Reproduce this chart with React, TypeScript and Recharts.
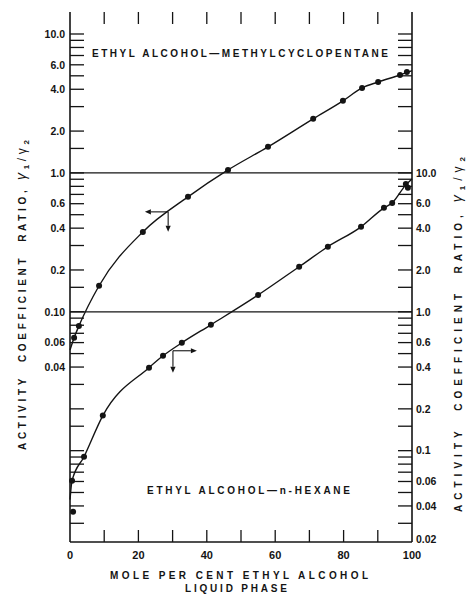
import { ComposedChart, Line, Scatter, XAxis, YAxis, ReferenceLine } from "recharts"

// Ethyl alcohol - methylcyclopentane (left axis)
const mcpX = [1.2, 2.6, 8.5, 21.3, 34.5, 46.2, 57.9, 71.1, 79.8, 85.4, 90.1, 96.5, 98.5]
const mcpRatio = [0.065, 0.079, 0.154, 0.376, 0.672, 1.05, 1.54, 2.45, 3.3, 4.09, 4.51, 5.07, 5.33]
// the smooth curve as drawn, read at these points
const mcpCurveX = [0, 1.2, 2.6, 8.5, 21.3, 34.5, 46.2, 57.9, 71.1, 79.8, 85.4, 90.1, 96.5, 100]
const mcpCurveRatio = [0.053, 0.065, 0.079, 0.154, 0.376, 0.672, 1.05, 1.54, 2.45, 3.3, 4.09, 4.51, 5.07, 5.45]

// Ethyl alcohol - n-hexane (right axis)
const hexX = [0.9, 0.6, 4.1, 9.6, 23.1, 27.2, 32.7, 41.2, 55.0, 67.0, 75.4, 85.1, 91.8, 94.2, 98.2, 98.8]
const hexRatio = [0.0364, 0.0608, 0.0905, 0.179, 0.396, 0.482, 0.598, 0.806, 1.32, 2.11, 2.94, 4.09, 5.6, 6.08, 8.33, 7.8]
const hexCurveX = [0, 0.6, 4.1, 9.6, 23.1, 27.2, 32.7, 41.2, 55.0, 67.0, 75.4, 85.1, 91.8, 94.2, 98.2, 100]
const hexCurveRatio = [0.0444, 0.0608, 0.0905, 0.179, 0.396, 0.482, 0.598, 0.806, 1.32, 2.11, 2.94, 4.09, 5.6, 6.08, 8.2, 9.05]

// axes
const xDomain = [0, 100]
const leftDomain = [0.0022, 14.4]
const rightDomain = [0.022, 144]
const xLabelValues = [0, 20, 40, 60, 80, 100]
const xMarks = [10, 20, 30, 40, 50, 60, 70, 80, 90]
const leftMarks = [10, 9, 8, 7, 6, 5, 4, 3, 2, 1.5, 1, 0.9, 0.8, 0.7, 0.6, 0.5, 0.4, 0.3, 0.2, 0.15, 0.1, 0.09, 0.08, 0.07, 0.06, 0.05, 0.04, 0.03, 0.02, 0.015, 0.01, 0.009, 0.008, 0.007, 0.006, 0.005, 0.004, 0.003]
const leftLabelValues = [10, 6, 4, 2, 1, 0.6, 0.4, 0.2, 0.1, 0.06, 0.04]
const leftLabels = ["10.0", "6.0", "4.0", "2.0", "1.0", "0.6", "0.4", "0.2", "0.10", "0.06", "0.04"]
const rightMarks = [100, 90, 80, 70, 60, 50, 40, 30, 20, 15, 10, 9, 8, 7, 6, 5, 4, 3, 2, 1.5, 1, 0.9, 0.8, 0.7, 0.6, 0.5, 0.4, 0.3, 0.2, 0.15, 0.1, 0.09, 0.08, 0.07, 0.06, 0.05, 0.04, 0.03]
const rightLabelValues = [10, 6, 4, 2, 1, 0.6, 0.4, 0.2, 0.1, 0.06, 0.04, 0.02]
const rightLabels = ["10.0", "6.0", "4.0", "2.0", "1.0", "0.6", "0.4", "0.2", "0.1", "0.06", "0.04", "0.02"]

const ink = "#141414"
const font = "'Liberation Sans', Arial, sans-serif"

const pts = (xs: number[], ys: number[]) => xs.map((x, i) => ({ x, y: ys[i] }))
const findLabel = (vals: number[], v: number) => vals.findIndex(a => Math.abs(a - v) < a * 1e-6)

const LeftTick = (props: any) => {
  const { x, y, payload } = props
  const i = findLabel(leftLabelValues, payload.value)
  if (i < 0) return <g />
  return (
    <text x={x - 5} y={y} dy="0.36em" textAnchor="end" fontFamily={font} fontWeight="bold" fontSize={10.5} fill={ink}>
      {leftLabels[i]}
    </text>
  )
}

const RightTick = (props: any) => {
  const { x, y, payload } = props
  const i = findLabel(rightLabelValues, payload.value)
  if (i < 0) return <g />
  return (
    <text x={x + 4} y={Math.min(y, 539)} dy="0.36em" textAnchor="start" fontFamily={font} fontWeight="bold" fontSize={10.5} fill={ink}>
      {rightLabels[i]}
    </text>
  )
}

const BottomTick = (props: any) => {
  const { x, y, payload } = props
  return (
    <text x={x} y={y + 17} textAnchor="middle" fontFamily={font} fontWeight="bold" fontSize={11} fill={ink}>
      {payload.value}
    </text>
  )
}

// inward tick marks, drawn as scatter shapes placed by the axes' scales
const MarkL = (p: any) => <rect x={p.cx} y={p.cy - 0.65} width={14} height={1.3} fill={ink} />
const MarkR = (p: any) => <rect x={p.cx - 14} y={p.cy - 0.65} width={14} height={1.3} fill={ink} />
const MarkT = (p: any) => <rect x={p.cx - 0.65} y={p.cy} width={1.3} height={12} fill={ink} />
const MarkB = (p: any) => <rect x={p.cx - 0.65} y={p.cy - 12} width={1.3} height={12} fill={ink} />

// reference line drawn as an arrow
const Arrow = (props: any) => {
  const { x1, y1, x2, y2 } = props
  const a = Math.atan2(y2 - y1, x2 - x1)
  const len = 6
  const w = 2.6
  const bx = x2 - len * Math.cos(a)
  const by = y2 - len * Math.sin(a)
  const head = `${x2},${y2} ${bx - w * Math.sin(a)},${by + w * Math.cos(a)} ${bx + w * Math.sin(a)},${by - w * Math.cos(a)}`
  return (
    <g>
      <line x1={x1} y1={y1} x2={bx} y2={by} stroke={ink} strokeWidth={1.1} />
      <polygon points={head} fill={ink} />
    </g>
  )
}

const Dot = (props: any) => <circle cx={props.cx} cy={props.cy} r={3} fill={ink} />

const labelStyle = { fontFamily: font, fontWeight: 700, fontSize: 10, fill: ink, whiteSpace: "pre" as const }
const frame = { stroke: ink, strokeWidth: 1.6 }

export default function App() {
  return (
    <div style={{ position: "absolute", left: 0, top: 0, width: 468, height: 594 }}>
      <svg width={468} height={594} style={{ position: "absolute", left: 0, top: 0 }}>
        <text x={92} y={57} textLength={296} lengthAdjust="spacing" style={labelStyle}>
          ETHYL ALCOHOL—METHYLCYCLOPENTANE
        </text>
        <text x={147} y={494} textLength={203} lengthAdjust="spacing" style={labelStyle}>
          ETHYL ALCOHOL—n-HEXANE
        </text>
        <text x={110} y={579} textLength={258} lengthAdjust="spacing" style={labelStyle}>
          MOLE PER CENT ETHYL ALCOHOL
        </text>
        <text x={185} y={592} textLength={102} lengthAdjust="spacing" style={labelStyle}>
          LIQUID PHASE
        </text>
        <text transform="translate(26,450) rotate(-90)" textLength={310} lengthAdjust="spacing" style={labelStyle}>
          {"ACTIVITY  COEFFICIENT  RATIO, "}
          <tspan fontSize={14} fontWeight={400} fontStyle="italic">γ</tspan>
          <tspan fontSize={8} dy={3}>1</tspan>
          <tspan fontSize={12} fontWeight={400} dy={-3}>/γ</tspan>
          <tspan fontSize={8} dy={3}>2</tspan>
        </text>
        <text transform="translate(462,512) rotate(-90)" textLength={355} lengthAdjust="spacing" style={labelStyle}>
          {"ACTIVITY  COEFFICIENT  RATIO, "}
          <tspan fontSize={14} fontWeight={400} fontStyle="italic">γ</tspan>
          <tspan fontSize={8} dy={3}>1</tspan>
          <tspan fontSize={12} fontWeight={400} dy={-3}>/γ</tspan>
          <tspan fontSize={8} dy={3}>2</tspan>
        </text>
      </svg>

      <div style={{ position: "absolute", left: 0, top: 0 }}>
        <ComposedChart width={468} height={594} margin={{ top: 12, right: 0, bottom: 0, left: 0 }}>
          <XAxis
            xAxisId="b"
            dataKey="x"
            type="number"
            domain={xDomain}
            ticks={xLabelValues}
            interval={0}
            height={52}
            tickSize={0}
            tickMargin={0}
            tickLine={false}
            tick={<BottomTick />}
            axisLine={frame}
          />
          <XAxis
            xAxisId="t"
            orientation="top"
            dataKey="x"
            type="number"
            domain={xDomain}
            height={0}
            tickLine={false}
            tick={false}
            axisLine={frame}
          />
          <YAxis
            yAxisId="left"
            dataKey="y"
            type="number"
            scale="log"
            domain={leftDomain}
            allowDataOverflow
            ticks={leftLabelValues}
            interval={0}
            width={70}
            tickSize={0}
            tickMargin={0}
            tickLine={false}
            tick={<LeftTick />}
            axisLine={frame}
          />
          <YAxis
            yAxisId="right"
            orientation="right"
            dataKey="y"
            type="number"
            scale="log"
            domain={rightDomain}
            allowDataOverflow
            ticks={rightLabelValues}
            interval={0}
            width={56}
            tickSize={0}
            tickMargin={0}
            tickLine={false}
            tick={<RightTick />}
            axisLine={frame}
          />

          <Scatter xAxisId="b" yAxisId="left" data={leftMarks.map(v => ({ x: xDomain[0], y: v }))} dataKey="y" shape={MarkL} isAnimationActive={false} />
          <Scatter xAxisId="b" yAxisId="right" data={rightMarks.map(v => ({ x: xDomain[1], y: v }))} dataKey="y" shape={MarkR} isAnimationActive={false} />
          <Scatter xAxisId="b" yAxisId="left" data={xMarks.map(v => ({ x: v, y: leftDomain[1] }))} dataKey="y" shape={MarkT} isAnimationActive={false} />
          <Scatter xAxisId="b" yAxisId="left" data={xMarks.map(v => ({ x: v, y: leftDomain[0] }))} dataKey="y" shape={MarkB} isAnimationActive={false} />

          <ReferenceLine xAxisId="b" yAxisId="left" y={1} stroke={ink} strokeWidth={1.3} />
          <ReferenceLine xAxisId="b" yAxisId="left" y={0.1} stroke={ink} strokeWidth={1.3} />

          <Line
            xAxisId="b"
            yAxisId="left"
            data={pts(mcpCurveX, mcpCurveRatio)}
            dataKey="y"
            type="monotone"
            stroke={ink}
            strokeWidth={1.4}
            dot={false}
            isAnimationActive={false}
          />
          <Scatter xAxisId="b" yAxisId="left" data={pts(mcpX, mcpRatio)} dataKey="y" shape={<Dot />} isAnimationActive={false} />

          <Line
            xAxisId="b"
            yAxisId="right"
            data={pts(hexCurveX, hexCurveRatio)}
            dataKey="y"
            type="monotone"
            stroke={ink}
            strokeWidth={1.4}
            dot={false}
            isAnimationActive={false}
          />
          <Scatter xAxisId="b" yAxisId="right" data={pts(hexX, hexRatio)} dataKey="y" shape={<Dot />} isAnimationActive={false} />

          <ReferenceLine xAxisId="b" yAxisId="left" segment={[{ x: 28.7, y: 0.524 }, { x: 21.9, y: 0.524 }]} shape={Arrow} />
          <ReferenceLine xAxisId="b" yAxisId="left" segment={[{ x: 28.7, y: 0.524 }, { x: 28.7, y: 0.377 }]} shape={Arrow} />
          <ReferenceLine xAxisId="b" yAxisId="right" segment={[{ x: 30.1, y: 0.524 }, { x: 37.1, y: 0.524 }]} shape={Arrow} />
          <ReferenceLine xAxisId="b" yAxisId="right" segment={[{ x: 30.1, y: 0.524 }, { x: 30.1, y: 0.364 }]} shape={Arrow} />
        </ComposedChart>
      </div>
    </div>
  )
}
